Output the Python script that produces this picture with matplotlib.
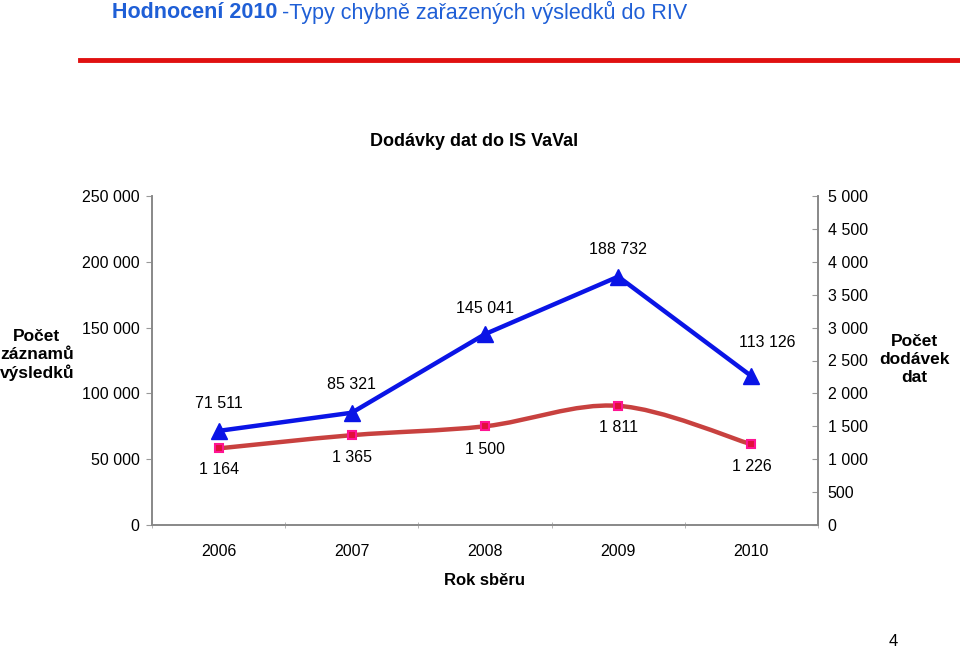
import matplotlib

matplotlib.use("Agg")
import matplotlib.pyplot as plt
import numpy as np
from matplotlib.path import Path
from matplotlib.patches import PathPatch

plt.rcParams["font.family"] = ["Liberation Sans", "DejaVu Sans"]

years = ["2006", "2007", "2008", "2009", "2010"]
zaznamy = [71511, 85321, 145041, 188732, 113126]
dodavky = [1164, 1365, 1500, 1811, 1226]
left_ticks = [0, 50000, 100000, 150000, 200000, 250000]
right_ticks = [0, 500, 1000, 1500, 2000, 2500, 3000, 3500, 4000, 4500, 5000]

BLUE, RED, PINK = "#0a14e6", "#c8413f", "#ff1493"
HEAD = "#1f5fd6"
PX = 72 / 100  # points per pixel at dpi 100


def fmt(v):
    return f"{v:,}".replace(",", " ")


def smooth_path(xs, ys, t=1 / 6):
    # Catmull-Rom -> cubic Bezier, like Excel's smoothed line
    xs, ys = list(map(float, xs)), list(map(float, ys))
    verts = [(xs[0], ys[0])]
    codes = [Path.MOVETO]
    n = len(xs)
    for i in range(n - 1):
        x0, y0 = (xs[i - 1], ys[i - 1]) if i > 0 else (xs[i], ys[i])
        x3, y3 = (xs[i + 2], ys[i + 2]) if i + 2 < n else (xs[i + 1], ys[i + 1])
        c1 = (xs[i] + (xs[i + 1] - x0) * t, ys[i] + (ys[i + 1] - y0) * t)
        c2 = (xs[i + 1] - (x3 - xs[i]) * t, ys[i + 1] - (y3 - ys[i]) * t)
        verts += [c1, c2, (xs[i + 1], ys[i + 1])]
        codes += [Path.CURVE4] * 3
    return Path(verts, codes)


fig = plt.figure(figsize=(9.6, 6.49), dpi=100)

# slide header
fig.text(112 / 960, 1 - 12 / 649, "Hodnocení 2010", color=HEAD, fontsize=15.5,
         fontweight="bold", va="center", ha="left")
fig.text(282 / 960, 1 - 12 / 649, "-Typy chybně zařazených výsledků do RIV", color=HEAD,
         fontsize=15.5, va="center", ha="left")
fig.add_artist(plt.Line2D([80 / 960, 1], [1 - 60 / 649] * 2, color="#e01010", lw=3.5))
fig.text(893 / 960, 1 - 641 / 649, "4", fontsize=12, ha="center", va="center")

ax = fig.add_axes([152 / 960, 1 - 525 / 649, 666 / 960, 329 / 649])
ax2 = ax.twinx()
x = np.arange(len(years))

ax.plot(x, zaznamy, color=BLUE, lw=3.2, marker="^", ms=12, zorder=3)
ax.set_ylim(0, 250000)
ax.set_xlim(-0.5, len(years) - 0.5)
ax.set_yticks(left_ticks)
ax.set_yticklabels([fmt(v) for v in left_ticks], fontsize=11.5)
ax.set_xticks(x)
ax.set_xticklabels(years, fontsize=11.5)
ax.set_xticks(np.arange(len(years) + 1) - 0.5, minor=True)
ax.tick_params(axis="x", which="major", length=0, pad=14)
ax.tick_params(axis="x", which="minor", length=4, color="#aaaaaa", direction="inout")
ax.tick_params(axis="y", length=4, color="#999999", pad=5)
ax.set_xlabel("Rok sběru", fontsize=12, fontweight="bold", labelpad=10)

ax2.add_patch(PathPatch(smooth_path(x, dodavky), fill=False, ec=RED, lw=3.2, zorder=2))
ax2.plot(x, dodavky, ls="none", marker="s", ms=6, mfc="#e0103a", mec=PINK, mew=1.5,
         zorder=4)
ax2.set_ylim(0, 5000)
ax2.set_yticks(right_ticks)
ax2.set_yticklabels([fmt(v) for v in right_ticks], fontsize=11.5)
ax2.tick_params(axis="y", length=4, color="#999999", pad=7, direction="in")
ax.set_zorder(ax2.get_zorder() + 1)
ax.patch.set_visible(False)

for a in (ax, ax2):
    a.spines["top"].set_visible(False)
    for s in ("left", "right", "bottom"):
        a.spines[s].set_color("#888888")
        a.spines[s].set_linewidth(1.2)

# data labels (offsets in pixels from the point, label centred)
blue_off = [(0, 27), (0, 28), (0, 26), (0, 27), (16, 34)]
for (dx, dy), xi, v in zip(blue_off, x, zaznamy):
    ax.annotate(fmt(v), (xi, v), xytext=(dx * PX, dy * PX), textcoords="offset points",
                ha="center", va="center", fontsize=11.5)
red_off = [(0, -21), (0, -22), (0, -23), (0, -22), (0, -22)]
for (dx, dy), xi, v in zip(red_off, x, dodavky):
    ax2.annotate(fmt(v), (xi, v), xytext=(dx * PX, dy * PX), textcoords="offset points",
                 ha="center", va="center", fontsize=11.5)

fig.text(37 / 960, 1 - 355 / 649, "Počet\nzáznamů\nvýsledků", fontsize=12.5,
         fontweight="bold", ha="center", va="center", linespacing=1.25)
fig.text(914 / 960, 1 - 360 / 649, "Počet\ndodávek\ndat", fontsize=12.5,
         fontweight="bold", ha="center", va="center", linespacing=1.25)
fig.text(474 / 960, 1 - 142 / 649, "Dodávky dat do IS VaVal", fontsize=13,
         fontweight="bold", ha="center", va="center")

fig.savefig("out.png", dpi=100)
